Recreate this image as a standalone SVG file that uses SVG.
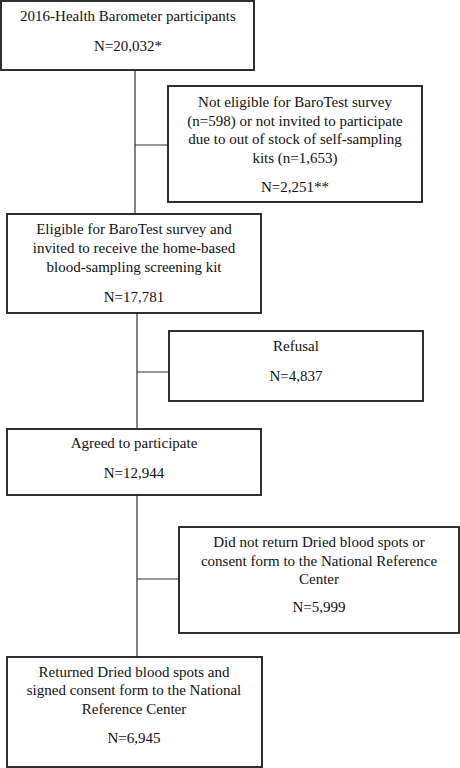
<svg xmlns="http://www.w3.org/2000/svg" width="460" height="768" viewBox="0 0 460 768">
<style>
.box{fill:#fff;stroke:#1a1a1a;stroke-width:1.8}
.ln{fill:none;stroke:#333;stroke-width:1.2}
text{font-family:"Liberation Serif","Times New Roman",serif;font-size:15px;fill:#111;text-anchor:middle}
</style>
<rect width="460" height="768" fill="#fff"/>
<g id="connectors">
<path class="ln" d="M135 70 V214 M135 145 H168"/>
<path class="ln" d="M137 313 V429 M137 372 H169"/>
<path class="ln" d="M137 495 V657 M137 579 H179"/>
</g>
<g id="n1">
<rect class="box" x="1" y="1" width="253" height="69"/>
<text x="128" y="21">2016-Health Barometer participants</text>
<text x="128" y="51">N=20,032*</text>
</g>
<g id="n2">
<rect class="box" x="168" y="86" width="254" height="116"/>
<text x="295" y="107">Not eligible for BaroTest survey</text>
<text x="295" y="126">(n=598) or not invited to participate</text>
<text x="295" y="144">due to out of stock of self-sampling</text>
<text x="295" y="163">kits (n=1,653)</text>
<text x="295" y="192">N=2,251**</text>
</g>
<g id="n3">
<rect class="box" x="7" y="214" width="254" height="99"/>
<text x="134" y="234">Eligible for BaroTest survey and</text>
<text x="134" y="253">invited to receive the home-based</text>
<text x="134" y="272">blood-sampling screening kit</text>
<text x="134" y="302">N=17,781</text>
</g>
<g id="n4">
<rect class="box" x="169" y="331" width="254" height="70"/>
<text x="296" y="351">Refusal</text>
<text x="296" y="381">N=4,837</text>
</g>
<g id="n5">
<rect class="box" x="7" y="429" width="254" height="66"/>
<text x="134" y="448">Agreed to participate</text>
<text x="134" y="478">N=12,944</text>
</g>
<g id="n6">
<rect class="box" x="179" y="527" width="280" height="106"/>
<text x="319" y="547">Did not return Dried blood spots or</text>
<text x="319" y="566">consent form to the National Reference</text>
<text x="319" y="584">Center</text>
<text x="319" y="612">N=5,999</text>
</g>
<g id="n7">
<rect class="box" x="7" y="657" width="255" height="110"/>
<text x="134" y="677">Returned Dried blood spots and</text>
<text x="134" y="695">signed consent form to the National</text>
<text x="134" y="714">Reference Center</text>
<text x="134" y="743">N=6,945</text>
</g>
</svg>
